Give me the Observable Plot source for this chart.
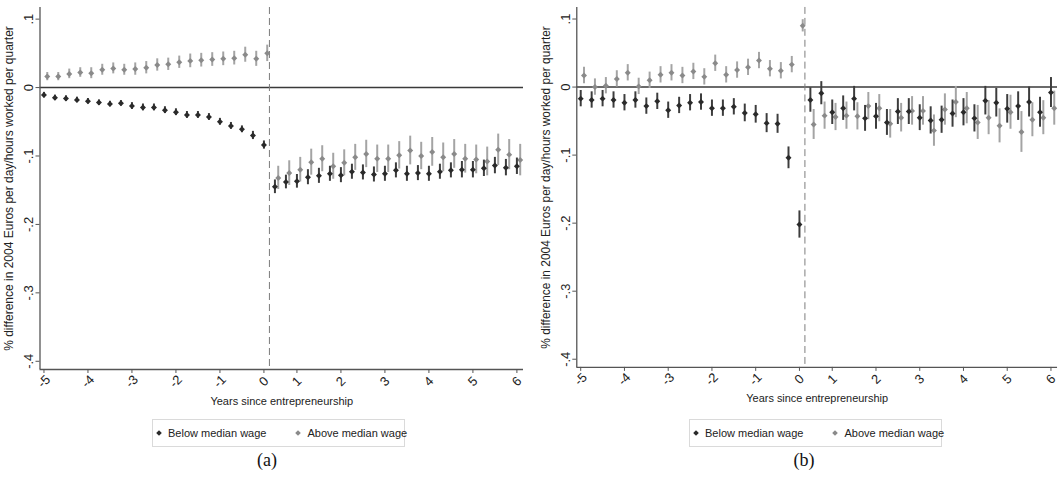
<!DOCTYPE html>
<html>
<head>
<meta charset="utf-8">
<script src="https://cdn.jsdelivr.net/npm/d3@7"></script>
<script src="https://cdn.jsdelivr.net/npm/@observablehq/plot@0.6"></script>
<style>
  html, body { margin: 0; padding: 0; background: #fff; overflow: hidden; }
  body { font-family: "Liberation Sans", Arial, sans-serif; }
  #root { position: relative; width: 1064px; height: 479px; }
  .panel { position: absolute; top: 0; }
  .legend { position: absolute; top: 419px; width: 253px; height: 28px; border: 1px solid #dadada;
    box-sizing: border-box; display: flex; align-items: center; font-size: 11px; color: #222; white-space: nowrap; }
  .legend .item { display: flex; align-items: center; flex: none; }
  .legend .sw { display: inline-block; width: 4px; height: 4px; transform: rotate(45deg); margin-right: 7px; }
  .caption { position: absolute; top: 450px; width: 60px; text-align: center;
    font-family: "Liberation Serif", "Times New Roman", serif; font-size: 18px; color: #111; }
</style>
</head>
<body>
<div id="root"></div>
<script>
// x positions: quarters relative to entrepreneurship
const quarters = [-5,-4.75,-4.5,-4.25,-4,-3.75,-3.5,-3.25,-3,-2.75,-2.5,-2.25,-2,-1.75,-1.5,-1.25,-1,-0.75,-0.5,-0.25,0,
  0.25,0.5,0.75,1,1.25,1.5,1.75,2,2.25,2.5,2.75,3,3.25,3.5,3.75,4,4.25,4.5,4.75,5,5.25,5.5,5.75];

// Panel (a)
const aBelow = [-0.011,-0.015,-0.016,-0.018,-0.020,-0.022,-0.024,-0.023,-0.027,-0.029,-0.029,-0.033,-0.036,-0.040,-0.040,-0.043,-0.050,-0.056,-0.061,-0.070,-0.084,
  -0.145,-0.138,-0.137,-0.131,-0.129,-0.126,-0.128,-0.123,-0.124,-0.127,-0.126,-0.121,-0.126,-0.125,-0.126,-0.123,-0.121,-0.120,-0.120,-0.118,-0.114,-0.117,-0.115];
const aBelowErr = [0.004,0.004,0.004,0.004,0.004,0.004,0.004,0.004,0.005,0.005,0.005,0.005,0.005,0.005,0.005,0.005,0.005,0.005,0.005,0.006,0.006,
  0.010,0.010,0.010,0.011,0.011,0.011,0.011,0.011,0.011,0.011,0.011,0.011,0.011,0.011,0.011,0.011,0.011,0.012,0.012,0.012,0.012,0.012,0.012];
const aAbove = [0.016,0.016,0.020,0.022,0.021,0.026,0.028,0.026,0.027,0.029,0.033,0.034,0.037,0.039,0.040,0.041,0.042,0.043,0.048,0.042,0.050,
  -0.132,-0.125,-0.120,-0.109,-0.104,-0.115,-0.110,-0.102,-0.097,-0.104,-0.104,-0.099,-0.092,-0.100,-0.094,-0.102,-0.097,-0.104,-0.105,-0.108,-0.091,-0.098,-0.106];
const aAboveErr = [0.006,0.006,0.007,0.007,0.008,0.008,0.008,0.008,0.009,0.009,0.009,0.009,0.009,0.010,0.010,0.010,0.010,0.010,0.011,0.011,0.012,
  0.017,0.018,0.018,0.019,0.019,0.019,0.019,0.019,0.020,0.020,0.020,0.020,0.021,0.020,0.021,0.021,0.021,0.021,0.021,0.021,0.023,0.022,0.023];

// Panel (b)
const bBelow = [-0.017,-0.019,-0.017,-0.019,-0.023,-0.019,-0.028,-0.021,-0.034,-0.027,-0.023,-0.022,-0.031,-0.031,-0.029,-0.038,-0.040,-0.053,-0.054,-0.104,-0.202,
  -0.019,-0.009,-0.037,-0.031,-0.017,-0.046,-0.043,-0.052,-0.036,-0.036,-0.045,-0.049,-0.048,-0.039,-0.037,-0.046,-0.020,-0.023,-0.032,-0.028,-0.022,-0.037,-0.008];
const bBelowErr = [0.012,0.012,0.012,0.012,0.012,0.012,0.012,0.012,0.012,0.012,0.012,0.012,0.012,0.012,0.012,0.013,0.013,0.014,0.014,0.016,0.020,
  0.018,0.017,0.018,0.018,0.018,0.019,0.019,0.019,0.019,0.019,0.019,0.020,0.020,0.020,0.020,0.020,0.021,0.021,0.021,0.021,0.022,0.022,0.022];
const bAbove = [0.017,0.000,0.002,0.012,0.021,0.001,0.010,0.018,0.021,0.017,0.023,0.015,0.035,0.018,0.025,0.029,0.039,0.027,0.024,0.033,0.090,
  -0.055,-0.042,-0.044,-0.042,-0.043,-0.028,-0.031,-0.054,-0.045,-0.035,-0.035,-0.064,-0.033,-0.022,-0.031,-0.052,-0.045,-0.057,-0.037,-0.066,-0.048,-0.045,-0.031];
const bAboveErr = [0.012,0.012,0.012,0.012,0.012,0.012,0.012,0.012,0.012,0.012,0.012,0.012,0.012,0.012,0.012,0.012,0.012,0.012,0.012,0.012,0.009,
  0.022,0.020,0.020,0.020,0.020,0.020,0.020,0.021,0.021,0.021,0.021,0.023,0.023,0.023,0.023,0.025,0.025,0.025,0.025,0.030,0.025,0.025,0.025];

// Axes
const yTicks = [0.1, 0, -0.1, -0.2, -0.3, -0.4];
const yTickLabels = [".1", "0", "-.1", "-.2", "-.3", "-.4"];
const xTickPos = [-5, -4, -3, -2, -1, 0, 0.75, 1.75, 2.75, 3.75, 4.75, 5.75];
const xTickLabels = ["-5", "-4", "-3", "-2", "-1", "0", "1", "2", "3", "4", "5", "6"];
const eventLine = 0.125;
const xDomain = [-5.09, 5.9];
const yDomain = [-0.412, 0.117];

const xTitle = "Years since entrepreneurship";
const yTitle = "% difference in 2004 Euros per day/hours worked per quarter";
const seriesNames = ["Below median wage", "Above median wage"];
const captions = ["(a)", "(b)"];

const darkMark = "#2a2a2a", darkBar = "#3d3d3d", lightMark = "#8a8a8a", lightBar = "#a4a4a4";

function rows(vals, errs) {
  return quarters.map((q, i) => ({x: q, y: vals[i], lo: vals[i] - errs[i], hi: vals[i] + errs[i]}));
}

function panel(below, belowErr, above, aboveErr) {
  const dark = rows(below, belowErr);
  const light = rows(above, aboveErr);
  return Plot.plot({
    width: 530, height: 412,
    marginLeft: 39.5, marginRight: 7, marginTop: 7, marginBottom: 43,
    style: {fontFamily: "Liberation Sans, Arial, sans-serif", fontSize: "12px", color: "#222", background: "transparent", overflow: "visible"},
    x: {domain: xDomain},
    y: {domain: yDomain},
    marks: [
      Plot.ruleY([0], {stroke: "#3a3a3a", strokeWidth: 1.4}),
      Plot.ruleX([eventLine], {stroke: "#7c7c7c", strokeWidth: 1, strokeDasharray: "7,4"}),
      Plot.ruleX(light, {x: "x", y1: "lo", y2: "hi", dx: 3.3, stroke: lightBar, strokeWidth: 2}),
      Plot.dot(light, {x: "x", y: "y", dx: 3.3, symbol: "diamond2", r: 2.7, fill: lightMark, stroke: "none"}),
      Plot.ruleX(dark, {x: "x", y1: "lo", y2: "hi", stroke: darkBar, strokeWidth: 2}),
      Plot.dot(dark, {x: "x", y: "y", symbol: "diamond2", r: 2.7, fill: darkMark, stroke: "none"}),
      Plot.ruleX([xDomain[0]], {stroke: "#555", strokeWidth: 1.3}),
      Plot.ruleY([yDomain[0]], {stroke: "#555", strokeWidth: 1.3}),
      Plot.axisY(yTicks, {tickFormat: d => yTickLabels[yTicks.indexOf(d)], tickRotate: -90, tickSize: 4,
        tickPadding: 3, stroke: "#555", fontSize: 13, label: null}),
      Plot.axisX(xTickPos, {tickFormat: d => xTickLabels[xTickPos.indexOf(d)], tickRotate: -45, textAnchor: "middle",
        tickSize: 4, tickPadding: 8, stroke: "#555", fontSize: 13, label: null}),
      Plot.text([xTitle], {frameAnchor: "bottom", dy: 35, fontSize: 11, fill: "#222"}),
      Plot.text([yTitle], {frameAnchor: "left", textAnchor: "middle", rotate: -90, dx: -31, fontSize: 12, fill: "#222"})
    ]
  });
}

const root = document.getElementById("root");
const offsets = [0, 537];
const data = [[aBelow, aBelowErr, aAbove, aAboveErr], [bBelow, bBelowErr, bAbove, bAboveErr]];
data.forEach((d, i) => {
  const div = document.createElement("div");
  div.className = "panel";
  div.style.left = offsets[i] + "px";
  div.appendChild(panel(...d));
  root.appendChild(div);

  const leg = document.createElement("div");
  leg.className = "legend";
  leg.style.left = (offsets[i] + 152) + "px";
  leg.innerHTML =
    `<span class="item" style="margin-left:4px"><span class="sw" style="background:${darkMark}"></span>${seriesNames[0]}</span>` +
    `<span class="item" style="margin-left:30px"><span class="sw" style="background:${lightMark}"></span>${seriesNames[1]}</span>`;
  root.appendChild(leg);

  const cap = document.createElement("div");
  cap.className = "caption";
  cap.style.left = (offsets[i] + 267 - 30) + "px";
  cap.textContent = captions[i];
  root.appendChild(cap);
});
</script>
</body>
</html>
